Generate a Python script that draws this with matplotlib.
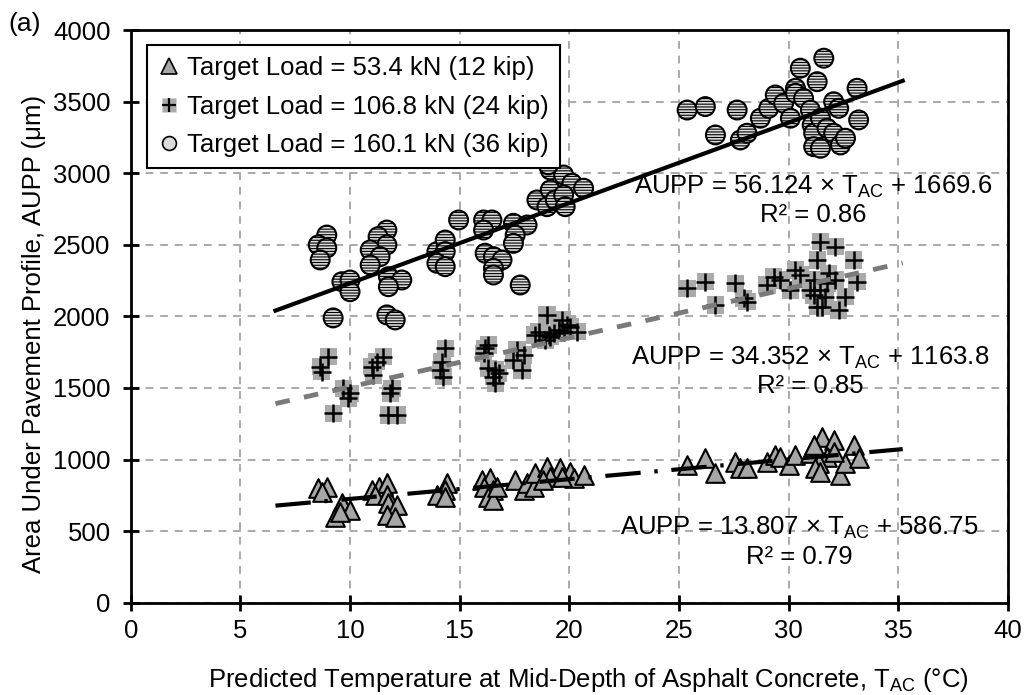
import matplotlib
matplotlib.use("Agg")
import matplotlib.pyplot as plt
from matplotlib.lines import Line2D
import numpy as np

plt.rcParams['font.family'] = ['Liberation Sans', 'DejaVu Sans']
plt.rcParams['mathtext.fontset'] = 'custom'
plt.rcParams['mathtext.rm'] = 'Liberation Sans'
plt.rcParams['hatch.linewidth'] = 0.8
plt.rcParams['hatch.color'] = '#333333'

# 53.4 kN (12 kip)
t12 = [8.56, 8.94, 8.71, 9.63, 10.0, 9.32, 9.55, 10.99, 11.3, 11.68, 11.15, 11.68,
       11.75, 12.14, 11.68, 12.06, 14.42, 14.34, 13.96, 14.34, 16.01, 16.39, 16.09,
       16.54, 16.31, 16.54, 16.7, 17.53, 17.91, 18.07, 18.37, 18.44, 18.98, 19.59,
       19.13, 20.04, 20.19, 20.65, 19.66, 18.82, 25.36, 26.2, 26.66, 27.57, 27.76,
       28.1, 29.01, 29.39, 29.62, 30.0, 30.31, 30.99, 31.52, 32.05, 32.97, 31.75,
       31.37, 31.22, 31.45, 32.36, 32.59, 33.19, 32.05, 31.14]
a12 = [799, 810, 775, 694, 648, 601, 636, 787, 810, 834, 752, 752,
       694, 682, 613, 601, 834, 787, 752, 740, 857, 869, 810,
       787, 740, 717, 810, 857, 787, 834, 810, 904, 950, 939,
       880, 915, 869, 892, 880, 857, 962, 1009, 904, 985, 939,
       939, 985, 1032, 1020, 962, 1032, 1044, 1160, 1136, 1102, 1020,
       974, 939, 915, 892, 974, 1009, 1055, 1102]

# 106.8 kN (24 kip)
t24 = [8.65, 9.01, 8.71, 9.70, 10.0, 9.93, 9.24, 10.99, 11.52, 11.22, 11.07, 11.91,
       11.83, 11.75, 12.14, 14.34, 14.19, 14.11, 14.26, 16.16, 16.31, 16.09, 16.62,
       16.54, 16.62, 16.31, 16.77, 17.61, 17.91, 17.45, 17.84, 18.44, 18.98, 19.05,
       18.9, 19.66, 19.74, 20.04, 20.35, 19.28, 19.51, 18.6, 19.13, 19.89,
       25.36, 26.2, 26.66, 27.57, 27.95, 28.1, 29.01, 29.32, 29.62, 30.08, 30.31,
       30.53, 31.14, 31.3, 31.45, 32.13, 30.99, 31.14, 31.45, 31.67, 31.3, 31.52,
       31.83, 32.13, 32.28, 32.59, 32.97, 33.12, 31.75]
a24 = [1648, 1718, 1614, 1498, 1463, 1428, 1323, 1648, 1718, 1683, 1590, 1498,
       1463, 1311, 1311, 1777, 1683, 1625, 1579, 1777, 1800, 1742, 1625,
       1579, 1533, 1637, 1602, 1765, 1730, 1695, 1625, 1870, 2010, 1870,
       1835, 1975, 1893, 1928, 1893, 1882, 1905, 1893, 1858, 1940,
       2196, 2242, 2079, 2231, 2126, 2103, 2219, 2277, 2254, 2184, 2324,
       2289, 2254, 2394, 2522, 2487, 2184, 2149, 2184, 2137, 2068, 2068,
       2301, 2254, 2045, 2137, 2394, 2242, 2231]

# 160.1 kN (36 kip)
t36 = [8.94, 8.55, 8.94, 8.64, 9.63, 10.0, 10.0, 9.23, 11.68, 11.28, 11.68, 10.92,
       11.37, 10.92, 11.75, 12.36, 11.75, 11.68, 12.06, 14.95, 13.96, 14.34, 14.34,
       13.96, 14.34, 16.09, 16.47, 16.09, 16.16, 16.54, 16.93, 16.54, 16.54, 17.45,
       18.07, 17.53, 17.45, 17.76, 18.52, 19.13, 19.74, 20.12, 20.65, 19.13, 18.98,
       19.36, 19.74, 19.81, 19.04,
       25.37, 26.2, 26.66, 27.65, 27.8, 28.1, 28.71, 29.09, 29.39, 29.77, 30.08,
       30.31, 30.53, 30.31, 30.68, 31.3, 31.6, 30.99, 31.07, 31.14, 31.45, 31.75,
       31.14, 31.45, 32.05, 32.28, 32.05, 32.36, 32.59, 33.12, 33.19]
a36 = [2568, 2499, 2478, 2394, 2242, 2254, 2172, 1989, 2603, 2557, 2499, 2464,
       2417, 2359, 2277, 2254, 2207, 2010, 1975, 2673, 2452, 2533, 2452,
       2371, 2347, 2673, 2673, 2603, 2441, 2417, 2394, 2336, 2289, 2650,
       2638, 2568, 2510, 2219, 2813, 3022, 2987, 2930, 2895, 2883, 2766,
       2813, 2848, 2766, 3058,
       3441, 3465, 3267, 3441, 3232, 3279, 3384, 3453, 3546, 3488, 3384,
       3593, 3733, 3558, 3523, 3639, 3803, 3441, 3337, 3279, 3384, 3314,
       3185, 3174, 3499, 3453, 3279, 3197, 3244, 3593, 3372]

# trend lines (slope, intercept, R2)
fits = [(13.807, 586.75, 0.79), (34.352, 1163.8, 0.85), (56.124, 1669.6, 0.86)]
fit_range = [6.6, 35.2]

fig = plt.figure(figsize=(10.32, 6.95), dpi=100)
ax = fig.add_axes([130.7 / 1032, (695 - 602.7) / 695, 877.3 / 1032, 572.7 / 695])

ax.set_xlim(0, 40)
ax.set_ylim(0, 4000)
ax.set_xticks(np.arange(0, 41, 5))
ax.set_yticks(np.arange(0, 4001, 500))
ax.grid(True, color='#a9a9a9', linestyle=(0, (4, 3.5)), linewidth=1.4, zorder=0)
ax.set_axisbelow(True)
for s in ax.spines.values():
    s.set_linewidth(2)
    s.set_color('black')
ax.tick_params(direction='inout', length=11, width=2, labelsize=18.5)
ax.tick_params(axis='y', pad=9)
ax.tick_params(axis='x', pad=6)

# scatter
ax.scatter(t12, a12, marker='^', s=180, facecolor='#a6a6a6', edgecolor='black',
           linewidth=1.5, zorder=3)
ax.scatter(t24, a24, marker='s', s=155, facecolor='#aaaaaa', edgecolor='none', zorder=3)
ax.scatter(t24, a24, marker='+', s=155, color='black', linewidth=1.8, zorder=3)
ax.scatter(t36, a36, marker='o', s=185, facecolor='#dcdcdc', edgecolor='black',
           linewidth=1.5, hatch='------', zorder=3)

# trend lines
xf = np.array(fit_range)
ax.plot(xf, fits[0][0] * xf + fits[0][1], color='black', lw=3,
        dashes=(8.5, 3.3, 0.8, 3.3), zorder=4)
ax.plot(xf, fits[1][0] * xf + fits[1][1], color='#7a7a7a', lw=3.5,
        dashes=(3, 3), zorder=4)
ax.plot(xf, fits[2][0] * xf + fits[2][1], color='black', lw=3, zorder=4)

# equations
eq_pos = [(30.49, 520, 321), (31.0, 1707, 1515), (31.1, 2906, 2708)]
for (m, b, r2), (xc, y1, y2) in zip(fits, eq_pos):
    ax.text(xc, y1, 'AUPP = %s × $\\mathregular{T_{AC}}$ + %s' % (('%.3f' % m), ('%g' % b)),
            ha='center', va='center', fontsize=18.5, zorder=5)
    ax.text(xc, y2, 'R² = %.2f' % r2, ha='center', va='center', fontsize=18.5, zorder=5)

ax.set_xlabel('Predicted Temperature at Mid-Depth of Asphalt Concrete, $\\mathregular{T_{AC}}$ (°C)',
              fontsize=18.5)
ax.set_ylabel('Area Under Pavement Profile, AUPP (μm)', fontsize=18.5)
ax.xaxis.set_label_coords(0.522, -0.11)
ax.yaxis.set_label_coords(-0.097, 0.47)
fig.text(8 / 1032, 1 - 24 / 695, '(a)', fontsize=19, va='center', ha='left')

# legend
h1 = Line2D([], [], ls='none', marker='^', ms=11, mfc='#a6a6a6', mec='black', mew=1.2)
h2a = Line2D([], [], ls='none', marker='s', ms=10, mfc='#aaaaaa', mec='none')
h2b = Line2D([], [], ls='none', marker='+', ms=10, color='black', mew=1.6)
h3 = Line2D([], [], ls='none', marker='o', ms=10, mfc='#dcdcdc', mec='black', mew=1.2)
leg = ax.legend([h1, (h2a, h2b), h3],
                ['Target Load = 53.4 kN (12 kip)', 'Target Load = 106.8 kN (24 kip)',
                 'Target Load = 160.1 kN (36 kip)'],
                loc='upper left', bbox_to_anchor=(0.0186, 0.974), borderaxespad=0,
                fontsize=18.5, handlelength=0.8, handletextpad=0.3, labelspacing=0.55,
                fancybox=False, framealpha=1, edgecolor='black', borderpad=0.45)
leg.get_frame().set_linewidth(1.5)
leg.set_zorder(6)

fig.savefig('out.png', dpi=100)
